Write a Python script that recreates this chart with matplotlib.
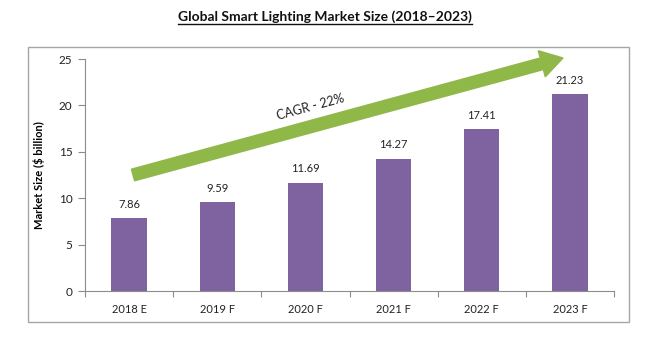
import matplotlib
matplotlib.use("Agg")
import matplotlib.pyplot as plt
import numpy as np
from matplotlib.patches import FancyArrow, Rectangle
from matplotlib.lines import Line2D

plt.rcParams['font.family'] = ['Lato', 'DejaVu Sans']

# data
years = ["2018 E", "2019 F", "2020 F", "2021 F", "2022 F", "2023 F"]
market_size = [7.86, 9.59, 11.69, 14.27, 17.41, 21.23]
y_ticks = [0, 5, 10, 15, 20, 25]
title = "Global Smart Lighting Market Size (2018\u20132023)"
cagr_label = "CAGR - 22%"

bar_color = "#7F62A0"
arrow_color = "#8FB849"
axis_color = "#8C8C8C"

fig = plt.figure(figsize=(6.5, 3.38), dpi=100)
ax = fig.add_axes([0.1308, 0.139, 0.8138, 0.6864])

x = np.arange(len(years))
ax.bar(x, market_size, width=0.4, color=bar_color, zorder=2)
for xi, v in zip(x, market_size):
    ax.text(xi, v + 0.9, f"{v:.2f}", ha="center", va="bottom", fontsize=8, color="#222222")

ax.set_xlim(-0.5, len(years) - 0.5)
ax.set_ylim(0, 25)
ax.set_yticks(y_ticks)
ax.tick_params(axis="y", labelsize=8.5, length=5, color=axis_color, labelcolor="#222222", pad=4)

# category boundaries as major ticks, labels on minor ticks (Excel style)
ax.set_xticks(np.arange(-0.5, len(years), 1))
ax.set_xticklabels([])
ax.set_xticks(x, minor=True)
ax.set_xticklabels(years, minor=True)
ax.tick_params(axis="x", which="major", length=4, color=axis_color)
ax.tick_params(axis="x", which="minor", length=0, labelsize=8, pad=9, labelcolor="#222222")

for s in ["top", "right"]:
    ax.spines[s].set_visible(False)
for s in ["left", "bottom"]:
    ax.spines[s].set_color(axis_color)

ax.set_ylabel("Market Size ($ billion)", fontsize=8, fontweight="bold", labelpad=10)

# chart border
fig.patches.append(Rectangle((0.043, 0.047), 0.9246, 0.814, transform=fig.transFigure,
                             fill=False, edgecolor="#A6A6A6", linewidth=1))

# growth arrow (inches)
tail = (1.33, (338 - 175) / 100)
tip = (5.63, (338 - 58) / 100)
arrow = FancyArrow(tail[0], tail[1], tip[0] - tail[0], tip[1] - tail[1], width=0.12,
                   head_width=0.27, head_length=0.22, length_includes_head=True,
                   color=arrow_color, transform=fig.dpi_scale_trans, zorder=3)
fig.patches.append(arrow)
fig.text(3.10 / 6.5, (338 - 107) / 338, cagr_label, rotation=15.2, fontsize=9,
         ha="center", va="center", color="#222222")

# title with underline
t = fig.text(0.5, 1 - 17 / 338, title, ha="center", va="center", fontsize=10,
             fontweight="bold", color="#111111")
fig.canvas.draw()
bb = t.get_window_extent()
uy = bb.y0 - 1
fig.lines.append(Line2D([bb.x0 / 650, bb.x1 / 650], [uy / 338, uy / 338],
                        transform=fig.transFigure, color="#111111", linewidth=1))

fig.savefig("out.png", dpi=100)
